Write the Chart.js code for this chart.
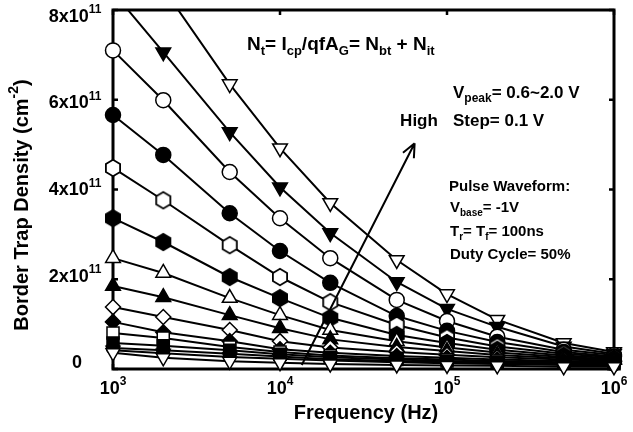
<!DOCTYPE html>
<html>
<head>
<meta charset="utf-8">
<script src="https://cdn.jsdelivr.net/npm/chart.js@4.4.1/dist/chart.umd.min.js"></script>
<style>
  html, body { margin: 0; padding: 0; background: #fff; }
  #chart { display: block; }
</style>
</head>
<body>
<canvas id="chart" width="633" height="432"></canvas>
<script>
// ======================= DATA =======================
// pulse frequency in Hz
const freqs = [1e3, 2e3, 5e3, 1e4, 2e4, 5e4, 1e5, 2e5, 5e5, 1e6];

// border trap density, in units of 1e11 cm^-2, one array per Vpeak
const v20 = [9.80, 8.48, 6.35, 4.92, 3.70, 2.43, 1.67, 1.10, 0.58, 0.38];
const v19 = [8.40, 7.06, 5.28, 4.05, 3.03, 1.94, 1.34, 0.94, 0.50, 0.34];
const v18 = [7.10, 5.99, 4.39, 3.36, 2.47, 1.54, 1.07, 0.72, 0.43, 0.31];
const v17 = [5.66, 4.77, 3.47, 2.63, 1.92, 1.18, 0.85, 0.60, 0.38, 0.28];
const v16 = [4.48, 3.76, 2.76, 2.05, 1.49, 0.98, 0.70, 0.50, 0.34, 0.26];
const v15 = [3.36, 2.83, 2.05, 1.58, 1.14, 0.76, 0.58, 0.43, 0.30, 0.24];
const v14 = [2.47, 2.14, 1.58, 1.20, 0.87, 0.62, 0.48, 0.37, 0.27, 0.22];
const v13 = [1.85, 1.60, 1.20, 0.91, 0.66, 0.49, 0.40, 0.31, 0.24, 0.20];
const v12 = [1.38, 1.16, 0.87, 0.62, 0.48, 0.38, 0.32, 0.26, 0.21, 0.18];
const v11 = [1.05, 0.82, 0.62, 0.44, 0.36, 0.29, 0.25, 0.21, 0.18, 0.16];
const v10 = [0.80, 0.69, 0.49, 0.38, 0.30, 0.24, 0.21, 0.18, 0.15, 0.14];
const v09 = [0.58, 0.52, 0.42, 0.33, 0.26, 0.21, 0.18, 0.15, 0.13, 0.12];
const v08 = [0.47, 0.42, 0.34, 0.28, 0.22, 0.18, 0.15, 0.13, 0.11, 0.10];
const v07 = [0.42, 0.35, 0.27, 0.23, 0.19, 0.15, 0.13, 0.11, 0.09, 0.08];
const v06 = [0.36, 0.25, 0.17, 0.14, 0.11, 0.09, 0.08, 0.07, 0.05, 0.05];

// axis ticks
const xTicks = [1e3, 1e4, 1e5, 1e6];
const xTickExp = ["3", "4", "5", "6"];
const yTicks = [0, 2e11, 4e11, 6e11, 8e11];
const yTickMant = ["0", "2x10", "4x10", "6x10", "8x10"];

// "High" arrow, in data coordinates [Hz, cm^-2]
const arrowFrom = [1.35e4, 0.09e11];
const arrowTo = [6.4e4, 5.03e11];

// ============================ MARKER SHAPES ===============================
// hexagon drawn once into a small canvas (pointy top), used as pointStyle
function hexagon(filled) {
  const c = document.createElement("canvas");
  c.width = 20; c.height = 20;
  const g = c.getContext("2d");
  g.beginPath();
  for (let i = 0; i < 6; i++) {
    const a = Math.PI / 2 + i * Math.PI / 3;
    const px = 10 + 8.2 * Math.cos(a), py = 10 - 8.2 * Math.sin(a);
    i ? g.lineTo(px, py) : g.moveTo(px, py);
  }
  g.closePath();
  g.fillStyle = filled ? "#000" : "#fff";
  g.fill();
  g.lineWidth = 1.8;
  g.strokeStyle = "#000";
  g.stroke();
  return c;
}

const FONT = '"Liberation Sans", Arial, sans-serif';

// [values, pointStyle, filled, radius, rotation]
const series = [
  [v06, "triangle", false, 8, 180],
  [v07, "triangle", true, 8, 180],
  [v08, "circle", true, 6.5, 0],
  [v09, "rect", true, 8.5, 0],
  [v10, "rect", false, 8.5, 0],
  [v11, "rectRot", true, 7.5, 0],
  [v12, "rectRot", false, 7.5, 0],
  [v13, "triangle", true, 8.5, 0],
  [v14, "triangle", false, 8.5, 0],
  [v15, hexagon(true), true, 8, 0],
  [v16, hexagon(false), false, 8, 0],
  [v17, "circle", true, 7.5, 0],
  [v18, "circle", false, 7.5, 0],
  [v19, "triangle", true, 8.5, 180],
  [v20, "triangle", false, 8.5, 180],
];

const datasets = series.map(([vals, style, filled, r, rot]) => ({
  data: freqs.map((f, i) => ({ x: f, y: vals[i] * 1e11 })),
  borderColor: "#000",
  borderWidth: 2,
  pointStyle: style,
  pointRadius: r,
  pointRotation: rot,
  pointBackgroundColor: filled ? "#000" : "#fff",
  pointBorderColor: "#000",
  pointBorderWidth: 1.5,
  tension: 0,
  clip: { left: 12, right: 12, top: 0, bottom: 12 },
}));

// ============================ TEXT HELPERS ================================
// parts: [[text, kind]] with kind "" | "sub" | "sup"
function rich(ctx, parts, x, y, size, draw = true) {
  let cx = x;
  parts.forEach(([t, k]) => {
    const s = k ? Math.round(size * 0.68) : size;
    ctx.font = `bold ${s}px ${FONT}`;
    const dy = k === "sub" ? size * 0.33 : k === "sup" ? -size * 0.38 : 0;
    if (draw) ctx.fillText(t, cx, y + dy);
    cx += ctx.measureText(t).width;
  });
  return cx - x;
}
function richCenter(ctx, parts, x, y, size) {
  const w = rich(ctx, parts, 0, 0, size, false);
  rich(ctx, parts, x - w / 2, y, size);
}

// ============================ FRAME + LABELS ==============================
const framePlugin = {
  id: "frame",
  beforeDatasetsDraw(chart) {
    const { ctx, chartArea: a, scales } = chart;
    ctx.save();
    ctx.strokeStyle = "#000";
    ctx.lineWidth = 3;
    ctx.strokeRect(a.left, a.top, a.right - a.left, a.bottom - a.top);
    ctx.lineWidth = 2.5;
    ctx.beginPath();
    xTicks.forEach(v => {
      const px = scales.x.getPixelForValue(v);
      ctx.moveTo(px, a.bottom); ctx.lineTo(px, a.bottom - 5);
      ctx.moveTo(px, a.top); ctx.lineTo(px, a.top + 5);
    });
    yTicks.forEach(v => {
      const py = scales.y.getPixelForValue(v);
      ctx.moveTo(a.left, py); ctx.lineTo(a.left + 5, py);
      ctx.moveTo(a.right, py); ctx.lineTo(a.right - 5, py);
    });
    ctx.stroke();
    ctx.restore();
  },
  afterDraw(chart) {
    const { ctx, chartArea: a, scales } = chart;
    ctx.save();
    ctx.fillStyle = "#000";
    ctx.textBaseline = "middle";
    ctx.textAlign = "left";

    // x tick labels 10^n
    xTicks.forEach((v, i) => {
      const px = scales.x.getPixelForValue(v);
      richCenter(ctx, [["10", ""], [xTickExp[i], "sup"]], px, a.bottom + 20, 18);
    });
    // y tick labels (the original sits them slightly off their ticks)
    yTicks.forEach((v, i) => {
      const py = scales.y.getPixelForValue(v);
      const ly = 17 + (py - a.top) * 0.964;
      const parts = v === 0 ? [["0", ""]] : [[yTickMant[i], ""], ["11", "sup"]];
      richCenter(ctx, parts, v === 0 ? 77 : 75, ly, 18);
    });

    // axis titles
    richCenter(ctx, [["Frequency (Hz)", ""]], 366, 413, 20);
    ctx.save();
    ctx.translate(22, 205);
    ctx.rotate(-Math.PI / 2);
    richCenter(ctx, [["Border Trap Density (cm", ""], ["-2", "sup"], [")", ""]], 0, 0, 20);
    ctx.restore();

    // annotations
    rich(ctx, [["N", ""], ["t", "sub"], ["= I", ""], ["cp", "sub"], ["/qfA", ""], ["G", "sub"],
               ["= N", ""], ["bt", "sub"], [" + N", ""], ["it", "sub"]], 247, 45, 19);
    rich(ctx, [["V", ""], ["peak", "sub"], ["= 0.6~2.0 V", ""]], 453, 93, 17);
    rich(ctx, [["Step= 0.1 V", ""]], 453, 121, 17);
    richCenter(ctx, [["High", ""]], 419, 121, 17);
    rich(ctx, [["Pulse Waveform:", ""]], 449, 187, 15);
    rich(ctx, [["V", ""], ["base", "sub"], ["= -1V", ""]], 450, 208, 15);
    rich(ctx, [["T", ""], ["r", "sub"], ["= T", ""], ["f", "sub"], ["= 100ns", ""]], 450, 232, 15);
    rich(ctx, [["Duty Cycle= 50%", ""]], 450, 255, 15);

    // arrow
    const x0 = scales.x.getPixelForValue(arrowFrom[0]), y0 = scales.y.getPixelForValue(arrowFrom[1]);
    const x1 = scales.x.getPixelForValue(arrowTo[0]), y1 = scales.y.getPixelForValue(arrowTo[1]);
    const ang = Math.atan2(y1 - y0, x1 - x0);
    ctx.strokeStyle = "#000";
    ctx.lineWidth = 2;
    ctx.beginPath();
    ctx.moveTo(x0, y0); ctx.lineTo(x1, y1);
    [0.42, -0.42].forEach(d => {
      ctx.moveTo(x1, y1);
      ctx.lineTo(x1 - 15 * Math.cos(ang + d), y1 - 15 * Math.sin(ang + d));
    });
    ctx.stroke();
    ctx.restore();
  }
};

// ================================ CHART ===================================
new Chart(document.getElementById("chart").getContext("2d"), {
  type: "line",
  data: { datasets },
  options: {
    responsive: false,
    animation: false,
    devicePixelRatio: 1,
    layout: { padding: { left: 113, top: 10, right: 19, bottom: 63 } },
    plugins: { legend: { display: false }, tooltip: { enabled: false } },
    scales: {
      x: { type: "logarithmic", min: 1e3, max: 1e6, display: false },
      y: { type: "linear", min: 0, max: 8e11, display: false }
    }
  },
  plugins: [framePlugin]
});
</script>
</body>
</html>
